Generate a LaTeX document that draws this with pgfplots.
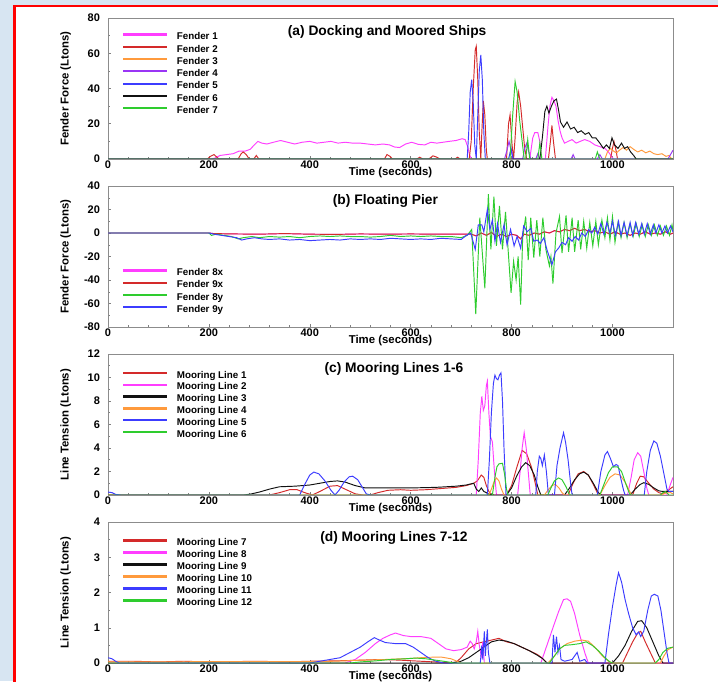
\documentclass[border=0pt]{standalone}
\usepackage{fontspec}
\setmainfont{Liberation Sans}
\usepackage{pgfplots}
\usepackage{pgfplotstable}
\pgfplotsset{compat=1.18}
\definecolor{bgblue}{HTML}{D7E5F2}
\definecolor{cMag}{HTML}{FF3DFF}
\definecolor{cRed}{HTML}{D42A2A}
\definecolor{cOra}{HTML}{FF9A3C}
\definecolor{cPur}{HTML}{9A35F5}
\definecolor{cBlu}{HTML}{3C3CFF}
\definecolor{cBlk}{HTML}{111111}
\definecolor{cGrn}{HTML}{2ECC2E}
\pgfplotstableread{
x y
0 0
200 0
210 -0.5
250 -0.8
300 -1
350 -0.5
400 -1
450 -1.2
500 -0.8
550 -1
600 -0.8
650 -1
700 -1
720 -1
730 -2.5
740 0
750 -2
760 0.5
770 -3
780 -1
790 -3
800 -1
810 -2
818 -5
825 -1
835 -2
845 0
855 -1
865 1
875 0
885 2
895 1
905 3
915 2
925 4
935 2
945 3
955 1
965 2
975 0
985 1
995 -1
1005 1
1015 -1
1025 0
1035 -2
1045 0
1055 -1
1065 1
1075 -1
1085 0
1095 -1
1105 1
1115 -1
1120 0
}\tabNineX
\pgfplotsset{
  panel/.style={
    anchor=south west, scale only axis, width=565pt, height=141pt,
    xmin=0, xmax=1120, xtick={0,200,...,1000}, minor x tick num=4, minor y tick num=1,
    tick align=inside, xtick pos=bottom, ytick pos=left,
    axis line style={black!45, line width=0.6pt},
    major tick length=3pt, minor tick length=2pt,
    every tick/.style={black!50, line width=0.5pt},
    /pgf/number format/assume math mode=true,
    /pgf/number format/1000 sep={},
    ticklabel style={font=\bfseries\fontsize{11}{12}\selectfont},
    xticklabel style={inner sep=1.5pt},
    yticklabel style={xshift=-4.5pt},
    xlabel={Time (seconds)},
    xlabel style={at={(axis description cs:0.5,-0.099)}, anchor=center, font=\bfseries\fontsize{11.4}{13}\selectfont},
    ylabel style={at={(axis description cs:-0.075,0.5)}, anchor=center, font=\bfseries\fontsize{11.4}{13}\selectfont},
    title style={anchor=center, font=\bfseries\fontsize{13.8}{15}\selectfont},
    legend style={draw=none, fill=none, anchor=north west, font=\bfseries\fontsize{9.8}{11}\selectfont, nodes={inner sep=0pt, text height=7pt, text depth=2pt}, column sep=8.4pt},
    legend cell align=left,
    legend image code/.code={\draw[##1, line width=2.2pt] (0pt,2.8pt) -- (44pt,2.8pt);},
    every axis plot/.append style={line width=0.95pt, mark=none},
  },
}
\begin{document}
\begin{tikzpicture}[x=1pt,y=1pt]
\useasboundingbox (0,0) rectangle (718,681);
\fill[bgblue] (0,0) rectangle (718,681);
\fill[white] (15.5,-5) rectangle (725,673.8);
\draw[red, line width=2.5pt] (14.5,-5) -- (14.5,674.8) -- (725,674.8);

% ---------------- (a)
\begin{axis}[panel, at={(108pt,522pt)}, ymin=0, ymax=80, ytick={0,20,...,80},
  ylabel={Fender Force (Ltons)}, title={(a) Docking and Moored Ships},
  title style={at={(axis description cs:0.494,0.858)}},
  legend style={at={(axis description cs:0.0196,0.911)}, row sep=3.3pt}]
\addplot[cMag] coordinates {(0,0)(205,0)(212,0.5)(222,2)(235,2.5)(248,3)(260,4.5)(272,4.5)(282,5.5)(290,8)(297,10)(305,9)(315,8.5)(328,9.5)(342,10.5)(356,9.5)(370,8.5)(385,9.5)(400,10)(414,9)(428,9.5)(442,10)(456,9)(470,9.5)(485,9)(500,9)(515,8.5)(530,8)(545,8.5)(558,8)(568,6.8)(578,6.5)(590,8.5)(602,9.5)(615,8.3)(628,8)(640,9.5)(652,9)(664,9.5)(676,10)(690,10.5)(702,11.5)(708,11)(713,7)(717,2)(721,0)(836,0)(842,12)(846,15)(852,15)(856,10)(860,0)(867,0)(872,18)(876,30)(880,35)(884,33)(888,30)(892,22)(896,16)(900,12)(905,9)(912,10)(920,11)(928,9)(936,10)(945,11)(955,10)(965,8)(975,7)(985,6)(992,4)(998,1.5)(1002,0)(1120,0)};
\addlegendentry{Fender 1}
\addplot[cRed] coordinates {(0,0)(197,0)(203,1.5)(210,2.5)(216,1)(220,0)(258,0)(264,3)(268,4)(274,2.5)(280,0)(289,0)(294,2)(299,0)(548,0)(553,2.5)(559,1.5)(564,0)(612,0)(618,1)(624,0)(636,0)(644,1.8)(652,1)(658,0)(688,0)(693,1)(698,0)(716,0)(720,10)(724,40)(728,62)(730,64)(733,45)(736,15)(739,0)(741,15)(744,33)(747,25)(750,5)(752,0)(790,0)(794,20)(797,25)(801,8)(804,0)(807,12)(811,32)(814,38)(818,30)(822,18)(826,6)(830,0)(873,0)(877,10)(880,19)(883,10)(887,0)(996,0)(1000,6)(1003,10)(1007,5)(1010,0)(1120,0)};
\addlegendentry{Fender 2}
\addplot[cOra] coordinates {(0,0)(985,0)(990,4)(996,6)(1002,4.5)(1008,3.5)(1014,5)(1021,6.5)(1028,5)(1035,7)(1042,5.5)(1050,4)(1058,5)(1066,3.5)(1074,4.5)(1082,3)(1090,2.5)(1098,3)(1106,1.5)(1112,2)(1116,0.5)(1120,0)};
\addlegendentry{Fender 3}
\addplot[cPur] coordinates {(0,0)(786,0)(790,4)(795,10)(799,5)(803,0)(822,0)(826,6)(830,9)(834,4)(838,0)(848,0)(852,3)(856,0)(918,0)(922,2.5)(926,0)(970,0)(975,2.5)(980,0)(1110,0)(1115,2.5)(1120,5)};
\addlegendentry{Fender 4}
\addplot[cBlu] coordinates {(0,0)(712,0)(715,15)(718,38)(721,45)(724,32)(727,8)(730,0)(733,25)(736,50)(739,59)(742,45)(745,15)(748,0)(794,0)(799,6)(803,0)(1120,0)};
\addlegendentry{Fender 5}
\addplot[cBlk] coordinates {(0,0)(856,0)(861,12)(866,27)(870,30)(874,26)(879,30)(884,33)(889,34)(893,28)(897,21)(903,18)(910,21)(917,17)(924,18)(931,15)(938,16)(946,14)(953,15)(960,12)(967,12)(975,9)(982,6)(988,8)(994,6)(999,12)(1004,8)(1011,6)(1018,9)(1024,6)(1030,7)(1036,4)(1042,2)(1047,0)(1120,0)};
\addlegendentry{Fender 6}
\addplot[cGrn] coordinates {(0,0)(797,0)(802,24)(807,44)(811,38)(816,22)(821,10)(825,0)(828,0)(832,11)(836,0)(852,0)(856,9)(860,0)(966,0)(970,4)(975,0)(1120,0)};
\addlegendentry{Fender 7}
\end{axis}

% ---------------- (b)
\begin{axis}[panel, at={(108pt,354pt)}, ymin=-80, ymax=40, ytick={-80,-60,...,40},
  ylabel={Fender Force (Ltons)}, title={(b) Floating Pier},
  title style={at={(axis description cs:0.491,0.851)}},
  legend style={at={(axis description cs:0.0196,0.429)}, row sep=3.2pt}]
\addplot[cMag] table[x=x,y=y] {\tabNineX};
\addlegendentry{Fender 8x}
\addplot[cRed] table[x=x,y=y] {\tabNineX};
\addlegendentry{Fender 9x}
\addplot[cGrn] coordinates {(0,0)(200,0)(205,-2)(215,-1)(230,-2)(245,-3)(258,-5)(268,-4)(285,-3)(300,-4)(320,-3)(340,-3.5)(360,-3)(380,-4)(400,-3)(420,-2.5)(440,-3)(460,-2.5)(480,-3)(500,-3)(520,-3.5)(540,-3)(560,-2)(580,-3)(600,-2.5)(620,-3)(640,-2.5)(660,-3)(680,-3)(700,-4)(712,-2)(721,3)(729,-69)(737,13)(747,-47)(754,33)(759,-14)(765,31)(770,-11)(776,23)(782,-14)(788,18)(799,-51)(804,-24)(809,-40)(813,-20)(818,-61)(822,-4)(828,14)(833,-23)(838,13)(844,-21)(850,11)(856,-20)(862,13)(868,-14)(875,-28)(878,-20)(882,-43)(888,0)(895,14)(900,-17)(908,15)(913,-16)(920,13)(925,-16)(932,11)(937,-14)(943,10)(949,-13)(955,9)(961,-11)(967,10)(972,-10)(979,11)(985,-4)(990,13)(995,-6)(1000,14)(1005,-8)(1011,9)(1017,-4)(1023,9)(1029,-4)(1035,8)(1041,-3)(1047,8)(1053,-3)(1059,7)(1065,-3)(1071,7)(1077,-2)(1083,7)(1089,-2)(1095,6)(1101,-2)(1107,6)(1113,-2)(1118,7)(1120,2)};
\addlegendentry{Fender 8y}
\addplot[cBlu] coordinates {(0,0)(200,0)(210,-1)(225,-2)(240,-3)(255,-4)(265,-6)(275,-5)(290,-4)(305,-5)(320,-5.5)(340,-5)(360,-6)(380,-5.5)(400,-6.5)(420,-6)(440,-5.5)(460,-6)(480,-5)(500,-5.5)(520,-5)(540,-5.5)(560,-4.5)(580,-5)(600,-5.5)(620,-5)(640,-5.5)(660,-4.5)(680,-5)(700,-5.5)(709,-2.5)(719,0)(728,-14)(734,7)(741,7)(745,1)(752,20)(757,3)(762,11)(767,-7)(772,8)(778,-8)(785,7)(791,-10)(798,3)(805,-11)(811,-3)(818,-13)(824,6)(831,1)(838,4)(844,-7)(851,-6)(857,-9)(864,-4)(870,-14)(880,-27)(887,-16)(893,-13)(900,-8)(907,-10)(913,-4)(920,-7)(926,-3)(933,-6)(939,0)(946,-3)(953,3)(959,0)(965,5)(971,-1)(977,8)(983,-1)(989,9)(995,0)(1000,10)(1006,-2)(1012,10)(1017,-2)(1023,9)(1029,-2)(1035,9)(1040,-2)(1046,9)(1052,-1)(1058,8)(1063,-1)(1069,8)(1075,-1)(1081,7)(1086,0)(1092,7)(1098,0)(1104,6)(1109,0)(1115,6)(1120,1)};
\addlegendentry{Fender 9y}
\end{axis}

% ---------------- (c)
\begin{axis}[panel, at={(108pt,186pt)}, ymin=0, ymax=12, ytick={0,2,...,12},
  ylabel={Line Tension (Ltons)}, title={(c) Mooring Lines 1-6},
  title style={at={(axis description cs:0.506,0.851)}},
  legend style={at={(axis description cs:0.0196,0.895)}, row sep=2.9pt}]
\addplot[cRed] coordinates {(0,0)(320,0)(340,0.2)(360,0.45)(375,0.45)(390,0.2)(405,0)(420,0.3)(440,0.75)(455,0.8)(470,0.5)(490,0.1)(505,0)(520,0)(535,0.2)(555,0.4)(580,0.45)(600,0.4)(630,0.45)(660,0.55)(690,0.65)(710,0.8)(725,1.0)(732,1.2)(740,1.7)(745,1.5)(750,0.8)(755,0.3)(760,0)(790,0)(800,0.8)(810,2.3)(821,3.8)(830,3.5)(840,2.3)(848,0.8)(852,0)(912,0)(922,1.0)(932,1.8)(943,2.0)(952,1.7)(962,0.9)(972,0)(1040,0)(1048,1.0)(1055,1.6)(1062,1.55)(1072,1.0)(1082,0.5)(1092,0.2)(1100,0.1)(1110,0.4)(1120,0.7)};
\addlegendentry{Mooring Line 1}
\addplot[cMag] coordinates {(0,0)(730,0)(734,3)(738,7)(741,8.4)(744,7.2)(747,7.6)(750,9.3)(752,9.7)(755,7)(758,5)(762,4.5)(766,2)(770,0)(812,0)(817,2)(821,4)(825,5.3)(829,4)(833,2)(837,0)(1030,0)(1037,1.5)(1043,3)(1050,3.6)(1056,3.3)(1062,2.0)(1068,0.6)(1072,0)(1108,0)(1114,0.8)(1120,1.5)};
\addlegendentry{Mooring Line 2}
\addplot[cBlk] coordinates {(0,0)(270,0)(285,0.1)(300,0.25)(320,0.5)(340,0.7)(370,0.75)(400,0.85)(420,1.0)(440,1.15)(455,1.2)(470,1.1)(490,0.8)(510,0.6)(540,0.6)(600,0.6)(650,0.65)(690,0.75)(710,0.85)(725,1.0)(730,0.5)(735,0.3)(740,0.6)(745,0.3)(750,0.2)(755,0.05)(765,0)(790,0)(800,0.6)(810,1.6)(820,2.4)(828,2.75)(836,2.5)(845,1.7)(852,0.7)(858,0)(905,0)(915,0.6)(925,1.3)(935,1.8)(943,1.95)(952,1.7)(962,1.0)(972,0.2)(978,0)(1035,0)(1045,0.5)(1055,0.9)(1062,1.05)(1072,0.9)(1082,0.6)(1092,0.35)(1100,0.3)(1120,0.3)};
\addlegendentry{Mooring Line 3}
\addplot[cOra] coordinates {(0,0)(755,0)(760,0.5)(765,1.1)(770,1.45)(775,1.2)(780,0.5)(785,0)(865,0)(872,0.4)(880,0.8)(887,0.9)(894,0.6)(900,0.2)(905,0)(975,0)(985,0.8)(995,1.5)(1005,1.8)(1015,1.7)(1025,1.1)(1033,0.4)(1038,0)(1095,0)(1105,0.15)(1115,0.2)(1120,0.1)};
\addlegendentry{Mooring Line 4}
\addplot[cBlu] coordinates {(0,0.25)(8,0.2)(15,0.05)(25,0)(380,0)(390,0.9)(400,1.7)(408,1.95)(418,1.8)(430,1.2)(442,0.4)(450,0)(458,0.4)(468,1.1)(478,1.55)(485,1.6)(495,1.3)(505,0.6)(512,0.1)(520,0)(752,0)(756,3)(760,7)(764,9.5)(767,10.2)(770,9.9)(773,9.8)(776,10.2)(779,10.4)(782,8)(785,4)(789,0)(848,0)(851,2)(855,3.3)(858,3.1)(861,2.5)(865,3.4)(869,2)(873,0)(885,0)(890,2.5)(896,4)(903,5.3)(907,4.5)(912,3)(917,1)(920,0)(970,0)(977,2)(985,3.4)(990,3.7)(996,3.1)(1002,2.4)(1007,2.6)(1011,2.5)(1016,1.5)(1022,0.4)(1025,0)(1063,0)(1068,2)(1075,3.8)(1082,4.6)(1088,4.4)(1095,3.3)(1102,1.8)(1108,0.5)(1112,0.3)(1120,0.3)};
\addlegendentry{Mooring Line 5}
\addplot[cGrn] coordinates {(0,0)(762,0)(767,1.5)(771,2.4)(775,2.65)(782,2.7)(786,1.8)(790,0.5)(793,0)(872,0)(878,0.6)(885,1.2)(893,1.45)(900,1.3)(908,0.7)(914,0.1)(917,0)(975,0)(983,0.9)(992,1.9)(1000,2.4)(1010,2.4)(1018,2.0)(1026,1.0)(1033,0.2)(1036,0)(1095,0)(1100,0.2)(1105,0.3)(1112,0)(1120,0)};
\addlegendentry{Mooring Line 6}
\end{axis}

% ---------------- (d)
\begin{axis}[panel, at={(108pt,18pt)}, ymin=0, ymax=4, ytick={0,1,...,4},
  ylabel={Line Tension (Ltons)}, title={(d) Mooring Lines 7-12},
  title style={at={(axis description cs:0.506,0.846)}},
  legend style={at={(axis description cs:0.0196,0.897)}, row sep=3.0pt}]
\addplot[cRed] coordinates {(0,0.05)(50,0.05)(100,0.03)(150,0.05)(200,0.03)(250,0.04)(300,0.05)(350,0.03)(400,0.05)(450,0.06)(500,0.08)(540,0.1)(580,0.08)(620,0.05)(660,0.02)(690,0.02)(700,0.15)(715,0.4)(730,0.55)(745,0.6)(760,0.65)(775,0.7)(790,0.6)(805,0.55)(820,0.45)(835,0.35)(850,0.25)(860,0.15)(870,0)(1020,0)(1030,0.3)(1040,0.6)(1050,0.85)(1056,0.9)(1065,0.6)(1075,0.3)(1085,0)(1120,0)};
\addlegendentry{Mooring Line 7}
\addplot[cMag] coordinates {(0,0)(470,0)(490,0.1)(510,0.3)(530,0.55)(545,0.7)(560,0.8)(570,0.85)(585,0.78)(600,0.75)(620,0.75)(640,0.7)(655,0.55)(670,0.4)(685,0.35)(700,0.38)(712,0.45)(718,0.62)(722,0.55)(726,0.4)(730,0.6)(733,0.9)(736,0.5)(740,0.2)(743,0.6)(746,0)(858,0)(870,0.5)(882,1.0)(893,1.45)(903,1.8)(910,1.82)(917,1.75)(925,1.4)(935,0.8)(945,0.3)(952,0)(1120,0)};
\addlegendentry{Mooring Line 8}
\addplot[cBlk] coordinates {(0,0)(680,0)(700,0.05)(715,0.15)(730,0.3)(745,0.45)(760,0.6)(775,0.65)(790,0.62)(805,0.55)(820,0.45)(835,0.35)(850,0.23)(862,0.12)(870,0)(1000,0)(1012,0.2)(1025,0.5)(1038,0.9)(1050,1.18)(1058,1.2)(1068,1.0)(1080,0.6)(1092,0.2)(1100,0)(1120,0)};
\addlegendentry{Mooring Line 9}
\addplot[cOra] coordinates {(0,0.03)(100,0.03)(200,0.04)(300,0.04)(400,0.04)(450,0.05)(500,0.08)(550,0.1)(600,0.13)(630,0.16)(660,0.17)(680,0.12)(695,0.03)(700,0)(872,0)(885,0.2)(895,0.4)(910,0.55)(925,0.62)(940,0.65)(952,0.62)(965,0.45)(980,0.2)(992,0.05)(1000,0)(1095,0)(1102,0.2)(1110,0.38)(1120,0.45)};
\addlegendentry{Mooring Line 10}
\addplot[cBlu] coordinates {(0,0.15)(8,0.12)(15,0.05)(22,0)(400,0)(420,0.05)(440,0.1)(460,0.15)(480,0.3)(500,0.45)(515,0.6)(528,0.72)(538,0.65)(550,0.58)(570,0.55)(590,0.55)(605,0.45)(620,0.3)(635,0.15)(650,0.05)(665,0)(738,0)(741,0.5)(743,0.1)(746,0.9)(748,0.2)(750,0.6)(752,0.95)(754,0.3)(757,0)(880,0)(883,0.8)(886,0.3)(889,0.75)(892,0.3)(895,0.5)(898,0.1)(905,0.05)(920,0.1)(930,0.3)(935,0.05)(945,0.1)(950,0)(985,0)(992,0.8)(1000,1.6)(1007,2.2)(1012,2.56)(1018,2.3)(1025,1.8)(1032,1.4)(1040,1.0)(1047,0.8)(1052,0.88)(1056,0.75)(1062,0.9)(1070,1.5)(1077,1.9)(1083,1.95)(1090,1.9)(1096,1.5)(1102,0.9)(1108,0.3)(1112,0)(1120,0)};
\addlegendentry{Mooring Line 11}
\addplot[cGrn] coordinates {(0,0)(480,0)(500,0.03)(530,0.06)(560,0.1)(590,0.12)(610,0.14)(630,0.12)(650,0.08)(670,0.04)(685,0)(875,0)(885,0.2)(895,0.4)(905,0.5)(920,0.52)(935,0.55)(948,0.6)(960,0.5)(972,0.35)(985,0.15)(995,0.03)(1000,0)(1085,0)(1092,0.1)(1100,0.3)(1110,0.42)(1120,0.45)};
\addlegendentry{Mooring Line 12}
\end{axis}
\end{tikzpicture}
\end{document}
